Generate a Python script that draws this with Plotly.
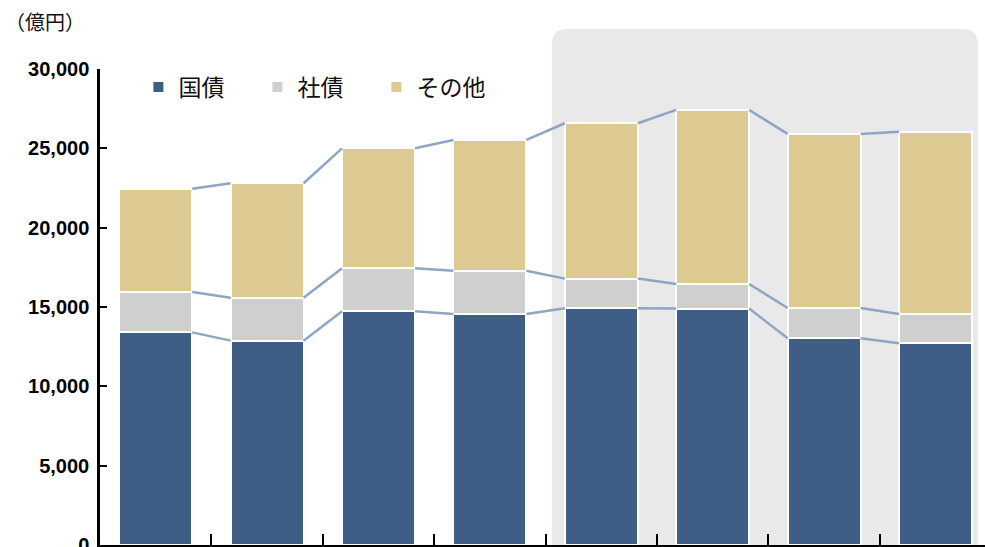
import plotly.graph_objects as go

categories = [0, 1, 2, 3, 4, 5, 6, 7]
series_names = ["国債", "社債", "その他"]
jgb = [13400, 12880, 14730, 14560, 14920, 14900, 13030, 12710]
corp = [2550, 2710, 2710, 2730, 1870, 1550, 1910, 1850]
other = [6500, 7210, 7560, 8240, 9790, 10970, 10970, 11490]
y_ticks = [0, 5000, 10000, 15000, 20000, 25000, 30000]
y_ticktext = ["0", "5,000", "10,000", "15,000", "20,000", "25,000", "30,000"]
unit_label = "（億円）"

colors = ["#3E5E85", "#CFCFCF", "#DCCA92"]
line_color = "#8EA6C4"
bar_w = 0.655

fig = go.Figure()

# shaded background region behind last four bars (rounded top corners)
x0, x1 = 3.555, 7.38
y1 = 1.084
rx, ry = 0.14, 0.033
path = (f"M {x0},0 L {x0},{y1-ry} Q {x0},{y1} {x0+rx},{y1} "
        f"L {x1-rx},{y1} Q {x1},{y1} {x1},{y1-ry} L {x1},0 Z")
fig.add_shape(type="path", path=path, xref="x", yref="paper",
              fillcolor="#E9E9E9", line=dict(width=0), layer="below")

for name, vals, c in zip(series_names, [jgb, corp, other], colors):
    fig.add_trace(go.Bar(
        x=categories, y=vals, name=name, width=bar_w,
        marker=dict(color=c, line=dict(color="white", width=2)),
    ))

# connector lines between cumulative tops
cum1 = jgb
cum2 = [a + b for a, b in zip(jgb, corp)]
cum3 = [a + b + c for a, b, c in zip(jgb, corp, other)]
lx, ly = [], []
for cum in (cum1, cum2, cum3):
    for i in range(len(categories) - 1):
        lx += [categories[i] + bar_w / 2, categories[i + 1] - bar_w / 2, None]
        ly += [cum[i], cum[i + 1], None]
fig.add_trace(go.Scatter(x=lx, y=ly, mode="lines", showlegend=False,
                         line=dict(color=line_color, width=2.5), hoverinfo="skip"))

fig.update_layout(
    width=985, height=547,
    barmode="stack",
    margin=dict(l=100, r=0, t=69, b=2),
    paper_bgcolor="white", plot_bgcolor="white",
    showlegend=True,
    legend=dict(orientation="h", x=0.0434, y=0.962, xanchor="left", yanchor="middle",
                font=dict(family="Noto Sans CJK JP", size=23, color="#111111"),
                entrywidth=74, entrywidthmode="pixels",
                traceorder="normal", bgcolor="rgba(0,0,0,0)"),
    annotations=[dict(text=unit_label, xref="paper", yref="paper",
                      x=-0.11, y=1.1, xanchor="left", yanchor="middle",
                      showarrow=False,
                      font=dict(family="Noto Sans CJK JP", size=20, color="#111111"))],
    bargap=0,
)
fig.update_xaxes(range=[-0.5, 7.444], showgrid=False, zeroline=False,
                 showline=True, linecolor="black", linewidth=2.5,
                 tickmode="array", tickvals=[0.5, 1.5, 2.5, 3.5, 4.5, 5.5, 6.5],
                 ticktext=[""] * 7, ticks="inside", ticklen=11, tickwidth=2,
                 tickcolor="black", automargin=False)
fig.update_yaxes(range=[0, 30000], showgrid=False, zeroline=False,
                 showline=True, linecolor="black", linewidth=2.5,
                 tickmode="array", tickvals=y_ticks, ticktext=y_ticktext,
                 ticks="inside", ticklen=7, tickwidth=2, tickcolor="black",
                 ticklabelstandoff=4, ticklabeloverflow="allow", automargin=False,
                 tickfont=dict(family="Liberation Sans", size=20, color="black",
                               weight="bold"))

fig.write_html("out.html", config={"displayModeBar": False},
               post_script="document.body.style.margin='0';document.body.style.overflow='hidden';")
